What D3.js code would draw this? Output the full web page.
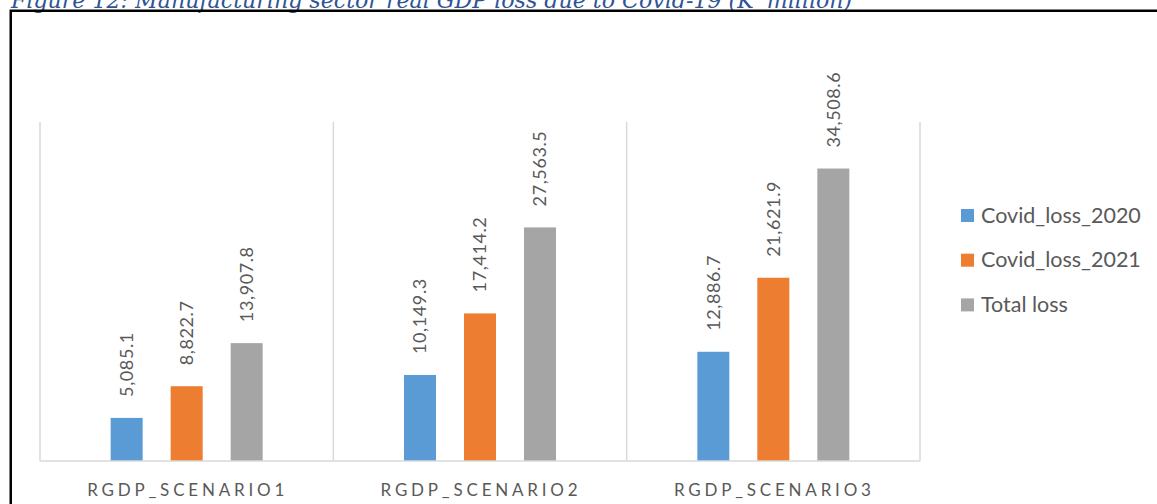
<!DOCTYPE html>
<html>
<head>
<meta charset="utf-8">
<script src="https://cdn.jsdelivr.net/npm/d3@7"></script>
<style>
  html, body { margin: 0; padding: 0; background: #fff; overflow: hidden; }
  svg { display: block; }
</style>
</head>
<body>
<svg id="chart" width="1157" height="504"></svg>
<script>
// ---- data ----
const titleText = "Figure 12: Manufacturing sector real GDP loss due to Covid-19 (K' million)";
const categories = ["RGDP_SCENARIO1", "RGDP_SCENARIO2", "RGDP_SCENARIO3"];
const seriesNames = ["Covid_loss_2020", "Covid_loss_2021", "Total loss"];
const covidLoss2020 = [5085.1, 10149.3, 12886.7];
const covidLoss2021 = [8822.7, 17414.2, 21621.9];
const totalLoss = [13907.8, 27563.5, 34508.6];
const seriesColors = ["#5B9BD5", "#ED7D31", "#A5A5A5"];

const seriesValues = [covidLoss2020, covidLoss2021, totalLoss];
const rows = [];
categories.forEach((c, ci) => {
  seriesNames.forEach((s, si) => rows.push({cat: c, series: s, value: seriesValues[si][ci], color: seriesColors[si]}));
});

const svg = d3.select("#chart");
const textColor = "#595959";
const gridColor = "#D9D9D9";
const font = "Lato, 'Open Sans', sans-serif";

// title (cut off at top, as in the source figure)
const title = svg.append("text")
  .attr("x", 11).attr("y", 7.5)
  .attr("font-family", "'DejaVu Serif', serif")
  .attr("font-style", "italic")
  .attr("font-size", 20)
  .attr("fill", "#2F5496")
  .text(titleText);
const tw = title.node().getComputedTextLength();
title.attr("font-size", 20 * 842 / tw);

// frame
svg.append("rect")
  .attr("x", 10.75).attr("y", 10.75)
  .attr("width", 1200).attr("height", 600)
  .attr("fill", "none").attr("stroke", "#000").attr("stroke-width", 2.5);

// scales
const plot = {left: 40, right: 920, top: 122, bottom: 461};
const x0 = d3.scaleBand().domain(categories).range([plot.left, plot.right]).padding(0);
const x1 = d3.scaleBand().domain(seriesNames).range([0, 180]).paddingInner(28 / 60).paddingOuter(0.2333);
const y = d3.scaleLinear().domain([0, 40000]).range([plot.bottom, plot.top]);

// vertical category separators
const seps = categories.map(c => x0(c)).concat([x0.range()[1]]);
svg.append("g").selectAll("line").data(seps).join("line")
  .attr("x1", d => d).attr("x2", d => d)
  .attr("y1", plot.top).attr("y2", plot.bottom)
  .attr("stroke", gridColor).attr("stroke-width", 1.5);

// bars
const barX = d => x0(d.cat) + x0.bandwidth() / 2 - 90 + x1(d.series);
svg.append("g").selectAll("rect").data(rows).join("rect")
  .attr("x", barX)
  .attr("y", d => y(d.value))
  .attr("width", x1.bandwidth())
  .attr("height", d => y(0) - y(d.value))
  .attr("fill", d => d.color);

// baseline
svg.append("line")
  .attr("x1", plot.left).attr("x2", plot.right)
  .attr("y1", plot.bottom).attr("y2", plot.bottom)
  .attr("stroke", gridColor).attr("stroke-width", 1.5);

// value labels
const fmt = d3.format(",.1f");
svg.append("g").selectAll("text").data(rows).join("text")
  .attr("transform", d => `translate(${barX(d) + x1.bandwidth() / 2},${y(d.value) - 21}) rotate(-90)`)
  .attr("dy", "0.36em")
  .attr("font-family", font).attr("font-size", 18)
  .attr("letter-spacing", "0.6px")
  .attr("fill", textColor)
  .text(d => fmt(d.value));

// category axis labels
svg.append("g").selectAll("text").data(categories).join("text")
  .attr("x", d => x0(d) + x0.bandwidth() / 2 + 1)
  .attr("y", 496)
  .attr("text-anchor", "middle")
  .attr("font-family", font).attr("font-size", 17)
  .attr("letter-spacing", "3.8px")
  .attr("fill", textColor)
  .text(d => d);

// legend
const lg = svg.append("g").selectAll("g").data(seriesNames).join("g")
  .attr("transform", (d, i) => `translate(961,${209 + i * 44.7})`);
lg.append("rect").attr("width", 13).attr("height", 13)
  .attr("fill", (d, i) => seriesColors[i]);
lg.append("text").attr("x", 20).attr("y", 13.5)
  .attr("font-family", font).attr("font-size", 21.5)
  .attr("fill", textColor)
  .text(d => d);
</script>
</body>
</html>
